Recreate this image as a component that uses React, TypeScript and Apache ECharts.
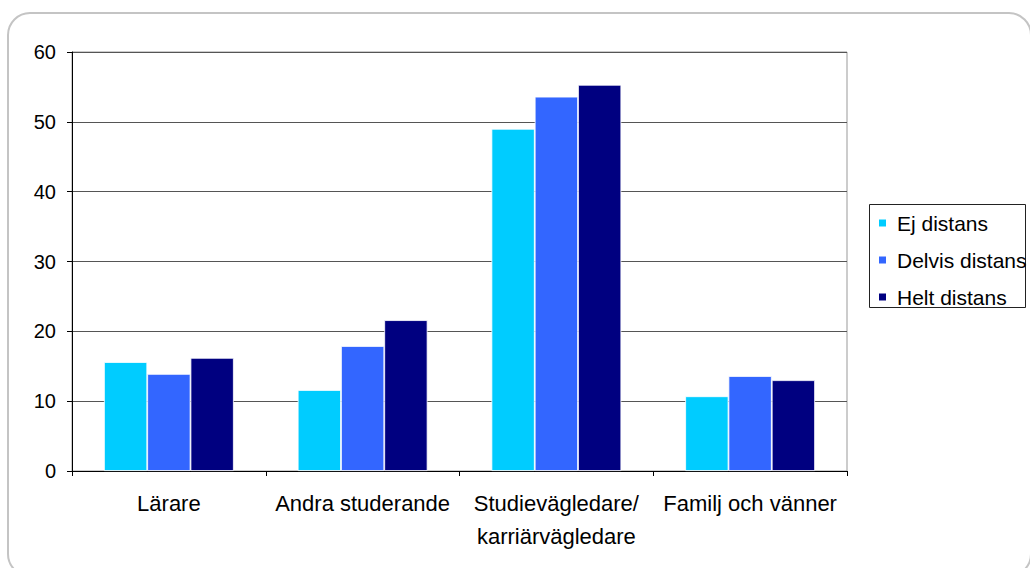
import React, { useEffect, useRef } from "react";
import * as echarts from "echarts";

const categories = ["Lärare", "Andra studerande", "Studievägledare/\nkarriärvägledare", "Familj och vänner"];
const seriesNames = ["Ej distans", "Delvis distans", "Helt distans"];
const ejDistans = [15.6, 11.6, 49.0, 10.7];
const delvisDistans = [13.9, 17.9, 53.6, 13.6];
const heltDistans = [16.2, 21.6, 55.3, 13.0];
const colors = ["#00CCFF", "#3366FF", "#000080"];

const FONT = "'Liberation Sans', Arial, sans-serif";

export default function App() {
  const ref = useRef<HTMLDivElement>(null);
  useEffect(() => {
    if (!ref.current) return;
    const chart = echarts.init(ref.current, null, { renderer: "svg" });
    const values = [ejDistans, delvisDistans, heltDistans];
    chart.setOption({
      animation: false,
      backgroundColor: "#ffffff",
      textStyle: { fontFamily: FONT },
      graphic: [
        {
          type: "rect",
          shape: { x: 8, y: 13, width: 1023, height: 563, r: 22 },
          style: { fill: "none", stroke: "#c4c4c4", lineWidth: 2 },
          z: -10,
        },
        {
          type: "rect",
          shape: { x: 869.5, y: 204.5, width: 156, height: 103 },
          style: { fill: "none", stroke: "#222", lineWidth: 1 },
        },
      ],
      legend: {
        orient: "vertical",
        left: 877,
        top: 212,
        padding: 0,
        itemWidth: 9,
        itemHeight: 9,
        itemGap: 15,
        icon: "rect",
        data: seriesNames,
        textStyle: { fontSize: 21, color: "#000", fontFamily: FONT, lineHeight: 22, padding: [0, 0, 0, 5] },
      },
      grid: {
        left: 72,
        right: 183,
        top: 52,
        bottom: 97,
        show: true,
        borderColor: "#999",
        borderWidth: 1,
        containLabel: false,
      },
      xAxis: {
        type: "category",
        data: categories,
        axisLine: { lineStyle: { color: "#000", width: 1 } },
        axisTick: { show: true, length: 5, lineStyle: { color: "#000" }, alignWithLabel: false },
        axisLabel: { fontSize: 22, color: "#000", margin: 16, lineHeight: 33, interval: 0, fontFamily: FONT },
      },
      yAxis: {
        type: "value",
        min: 0,
        max: 60,
        interval: 10,
        axisLine: { show: true, lineStyle: { color: "#000", width: 1 } },
        axisTick: { show: true, length: 5, lineStyle: { color: "#000" } },
        axisLabel: { fontSize: 20, color: "#000", margin: 16, fontFamily: FONT },
        splitLine: { show: true, lineStyle: { color: "#555", width: 1 } },
      },
      series: seriesNames.map((name, i) => ({
        name,
        type: "bar",
        data: values[i],
        barGap: "0%",
        barCategoryGap: "33%",
        itemStyle: { color: colors[i], borderColor: "#ffffff", borderWidth: 0.8 },
      })),
    });
    return () => chart.dispose();
  }, []);
  return (
    <div style={{ position: "absolute", left: 0, top: 0, width: 1030, height: 568 }}>
      <div ref={ref} style={{ width: 1030, height: 568 }} />
    </div>
  );
}
